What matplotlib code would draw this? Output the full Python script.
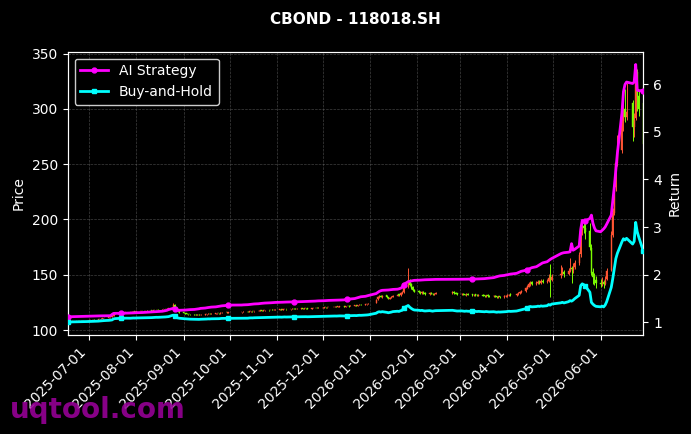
import numpy as np
import pandas as pd
import matplotlib
matplotlib.use("Agg")
import matplotlib.pyplot as plt
import matplotlib.dates as mdates

# ---------------- data ----------------
start_date = "2025-06-17"
end_date = "2026-06-29"
holidays = ["2025-10-01", "2025-10-02", "2025-10-03", "2025-10-06", "2025-10-07", "2025-10-08",
            "2026-01-01", "2026-01-02",
            "2026-02-16", "2026-02-17", "2026-02-18", "2026-02-19", "2026-02-20", "2026-02-23",
            "2026-04-06", "2026-05-01", "2026-05-04", "2026-05-05", "2026-06-19"]

opens = [
    107.3, 107.5, 107.8, 107.6, 107.9, 108.2, 108.0, 108.3, 108.5, 108.2,
    108.6, 108.9, 109.0, 109.4, 109.2, 109.7, 110.1, 110.3, 110.7, 111.0, 111.5, 111.9, 112.6, 114.8, 115.5, 116.2, 116.1, 115.8, 116.2, 116.4, 116.2, 116.5, 116.8,
    116.6, 116.8, 117.2, 117.2, 116.9, 117.3, 117.8, 117.6, 118.2, 118.0, 118.4, 118.2, 118.7, 119.2, 119.1, 119.5, 120.0, 123.0, 121.0, 118.4, 117.2,
    116.0, 115.3, 115.0, 114.5, 114.4, 114.0, 113.9, 113.6, 113.9, 113.5, 114.0, 114.1, 114.5, 114.8, 114.5, 114.8, 115.1, 115.4, 115.1, 115.5, 116.0, 115.8,
    116.0, 116.3, 116.6, 116.3, 116.8, 117.1, 116.9, 117.3, 117.5, 117.9, 117.5, 117.8, 118.2, 118.0, 118.4, 118.2, 118.4,
    118.6, 118.9, 118.6, 118.9, 119.2, 118.8, 119.2, 119.5, 119.4, 119.1, 119.4, 119.7, 119.5, 119.9, 119.8, 119.5, 119.9, 120.0, 120.2, 119.9,
    120.2, 120.3, 120.7, 120.5, 120.8, 121.0, 121.0, 121.3, 121.1, 121.3, 121.6, 121.2, 121.6, 122.0, 121.6, 122.0, 122.4, 122.1, 122.6, 123.0, 122.7, 123.2, 123.5,
    124.5, 127.8, 129.5, 131.2, 130.0, 131.3, 129.8, 128.5, 129.2, 130.0, 131.0, 132.4, 131.4, 133.5, 134.2, 139.0, 144.5, 141.6, 138.8, 136.5,
    135.2, 134.4, 133.2, 134.2, 133.3, 132.5, 133.6, 133.0, 132.1, 132.8, 133.2, 134.3, 133.8, 133.1,
    132.4, 133.0, 132.4, 131.7, 132.5, 132.2, 131.5, 132.3, 131.9, 131.1, 131.8, 131.4, 130.7, 131.5, 131.1, 130.4, 131.0, 130.5, 129.7, 130.5, 130.0, 130.5,
    131.0, 131.5, 132.3, 131.8, 132.4, 133.6, 134.3, 135.0, 137.5, 139.3, 141.2, 143.2, 141.6, 142.4, 143.9, 142.7, 144.4, 143.2, 144.3, 150.0, 145.5,
    149.5, 151.2, 152.5, 150.6, 153.8, 156.2, 154.6, 157.0, 160.5, 168.5, 190.5, 194.5, 192.5, 190.0, 174.0, 152.5, 148.5, 145.5,
    143.0, 142.0, 143.5, 142.0, 146.0, 154.0, 186.0, 206.0, 229.0, 251.0, 263.0, 289.0, 300.0, 293.0, 305.0, 284.0, 292.0, 333.0, 312.0, 305.0,
]
highs = [
    107.8, 107.9, 108.0, 108.0, 108.3, 108.4, 108.5, 108.6, 108.6, 108.8,
    109.0, 109.3, 109.5, 109.6, 109.8, 110.2, 110.6, 110.8, 111.2, 111.6, 112.1, 112.8, 115.0, 115.8, 116.3, 116.5, 116.4, 116.4, 116.6, 116.7, 116.8, 117.0, 117.1,
    117.1, 117.3, 117.5, 117.4, 117.6, 117.8, 118.0, 118.2, 118.4, 118.6, 118.7, 118.9, 119.2, 119.5, 119.7, 120.4, 124.5, 123.6, 121.3, 118.7, 117.5,
    116.3, 115.6, 115.3, 114.8, 114.7, 114.3, 114.2, 114.1, 114.2, 114.2, 114.5, 114.7, 115.0, 115.1, 115.2, 115.4, 115.6, 115.7, 115.9, 116.1, 116.3, 116.3,
    116.5, 116.8, 116.9, 117.1, 117.3, 117.4, 117.5, 117.8, 118.1, 118.2, 118.2, 118.4, 118.5, 118.6, 118.7, 118.8, 118.9,
    119.1, 119.2, 119.2, 119.4, 119.5, 119.5, 119.7, 119.8, 119.7, 119.7, 119.9, 120.0, 120.1, 120.2, 120.1, 120.1, 120.3, 120.4, 120.5, 120.5,
    120.7, 120.9, 121.0, 121.1, 121.2, 121.3, 121.5, 121.6, 121.7, 121.8, 121.9, 122.0, 122.2, 122.3, 122.3, 122.6, 122.7, 122.9, 123.2, 123.3, 123.5, 124.0, 124.4,
    128.3, 130.6, 132.0, 131.8, 131.7, 131.8, 130.2, 130.0, 130.8, 131.9, 132.9, 133.0, 134.0, 135.2, 141.0, 156.0, 146.2, 142.3, 139.6, 137.4,
    136.4, 135.2, 134.9, 135.0, 134.0, 134.2, 134.3, 133.6, 133.7, 134.1, 135.2, 135.0, 134.4, 133.8,
    133.6, 133.7, 133.0, 133.1, 133.2, 132.8, 132.8, 132.9, 132.5, 132.4, 132.5, 132.0, 132.1, 132.2, 131.7, 131.6, 131.7, 131.1, 131.2, 131.2, 131.4, 131.8,
    132.3, 132.9, 133.1, 133.4, 134.3, 135.3, 136.2, 139.0, 141.0, 143.2, 144.5, 144.6, 144.0, 145.2, 145.6, 146.0, 145.8, 146.4, 151.0, 160.0, 150.5,
    158.5, 157.0, 154.0, 156.0, 165.0, 158.0, 161.0, 163.0, 171.0, 199.0, 198.5, 197.5, 196.5, 197.0, 178.0, 156.0, 152.0, 149.0,
    146.0, 148.0, 145.0, 149.0, 156.0, 190.0, 210.0, 232.0, 256.0, 276.0, 298.0, 305.0, 318.0, 323.0, 308.0, 296.0, 340.2, 336.0, 317.0, 317.0,
]
lows = [
    107.2, 107.3, 107.4, 107.5, 107.7, 107.8, 107.9, 108.1, 108.0, 108.0,
    108.4, 108.7, 108.8, 109.0, 109.1, 109.5, 109.9, 110.1, 110.5, 110.8, 111.3, 111.7, 112.4, 114.5, 115.2, 115.7, 115.5, 115.6, 115.9, 115.9, 116.0, 116.3, 116.3,
    116.4, 116.6, 116.8, 116.7, 116.7, 117.1, 117.3, 117.4, 117.8, 117.8, 117.9, 118.0, 118.5, 118.8, 118.9, 119.3, 119.8, 120.8, 118.2, 116.6, 115.8,
    115.0, 114.6, 114.3, 114.0, 113.8, 113.6, 113.4, 113.3, 113.3, 113.2, 113.7, 113.9, 114.3, 114.3, 114.3, 114.6, 114.9, 114.9, 114.9, 115.3, 115.6, 115.6,
    115.8, 116.1, 116.0, 116.1, 116.6, 116.6, 116.7, 117.1, 117.3, 117.3, 117.3, 117.6, 117.7, 117.8, 117.9, 118.0, 118.2,
    118.4, 118.3, 118.4, 118.7, 118.6, 118.6, 119.0, 119.0, 118.8, 118.9, 119.2, 119.2, 119.3, 119.4, 119.2, 119.3, 119.7, 119.8, 119.6, 119.7,
    120.0, 120.1, 120.2, 120.3, 120.5, 120.7, 120.8, 120.8, 120.9, 121.1, 121.0, 121.0, 121.4, 121.3, 121.4, 121.8, 121.8, 121.9, 122.4, 122.4, 122.5, 123.0, 123.3,
    124.2, 127.2, 129.0, 129.6, 129.4, 129.0, 128.0, 128.1, 128.9, 129.7, 130.5, 130.9, 131.0, 132.8, 133.8, 138.0, 140.0, 137.5, 135.5, 134.0,
    133.5, 132.8, 132.6, 132.5, 131.9, 132.0, 132.2, 131.6, 131.7, 132.3, 132.7, 133.0, 132.4, 131.8,
    131.9, 131.8, 131.3, 131.2, 131.4, 131.0, 131.0, 131.2, 130.7, 130.6, 130.6, 130.1, 130.2, 130.3, 129.8, 129.9, 129.6, 129.1, 129.2, 129.4, 129.4, 129.8,
    130.2, 130.8, 130.9, 131.1, 131.8, 132.9, 133.6, 134.6, 136.8, 138.6, 140.3, 140.8, 140.5, 141.5, 141.8, 141.9, 142.2, 142.5, 143.6, 129.5, 144.2,
    147.0, 149.5, 148.0, 149.5, 152.5, 143.0, 152.0, 155.5, 158.5, 166.0, 186.0, 188.0, 182.0, 172.0, 150.0, 142.0, 141.0, 138.0,
    139.0, 140.0, 138.0, 141.0, 145.0, 153.0, 184.0, 204.0, 226.0, 248.0, 260.0, 280.0, 288.0, 290.0, 271.0, 275.0, 290.0, 298.0, 294.0, 253.0,
]
closes = [
    107.5, 107.7, 107.6, 107.9, 108.1, 108.0, 108.3, 108.4, 108.2, 108.6,
    108.8, 109.0, 109.3, 109.2, 109.6, 110.0, 110.3, 110.6, 110.9, 111.4, 111.9, 112.3, 114.6, 115.4, 115.9, 116.0, 115.8, 116.1, 116.3, 116.2, 116.5, 116.7, 116.6,
    116.8, 117.0, 117.1, 116.9, 117.3, 117.5, 117.6, 117.9, 118.0, 118.3, 118.2, 118.6, 118.9, 119.1, 119.4, 119.8, 123.1, 121.2, 118.6, 117.0, 116.2,
    115.4, 114.9, 114.6, 114.3, 114.1, 113.9, 113.7, 113.8, 113.6, 113.9, 114.2, 114.4, 114.7, 114.6, 114.9, 115.1, 115.3, 115.2, 115.6, 115.8, 115.9, 116.0,
    116.2, 116.5, 116.3, 116.8, 117.0, 116.9, 117.2, 117.5, 117.8, 117.6, 117.9, 118.1, 118.0, 118.3, 118.2, 118.5, 118.6,
    118.8, 118.6, 118.9, 119.1, 118.9, 119.2, 119.4, 119.3, 119.1, 119.4, 119.6, 119.5, 119.8, 119.7, 119.5, 119.8, 120.0, 120.1, 119.9, 120.2,
    120.4, 120.6, 120.5, 120.8, 120.9, 121.0, 121.2, 121.1, 121.4, 121.5, 121.3, 121.7, 121.9, 121.6, 122.0, 122.3, 122.1, 122.6, 122.9, 122.7, 123.2, 123.6, 124.0,
    127.5, 129.8, 130.9, 130.2, 131.0, 129.5, 128.6, 129.3, 130.1, 131.2, 132.0, 131.5, 133.2, 134.0, 139.5, 145.0, 141.2, 138.5, 136.2, 134.8,
    134.2, 133.5, 134.0, 133.1, 132.6, 133.4, 132.8, 132.2, 132.9, 133.3, 134.1, 133.6, 132.9, 132.5,
    132.8, 132.3, 131.9, 132.4, 132.0, 131.6, 132.1, 131.8, 131.3, 131.7, 131.2, 130.8, 131.4, 130.9, 130.5, 130.9, 130.3, 129.8, 130.4, 130.1, 130.6, 131.0,
    131.4, 132.0, 131.6, 132.5, 133.4, 134.2, 135.1, 137.8, 139.6, 141.5, 142.8, 141.9, 142.6, 143.5, 142.9, 144.1, 143.4, 144.5, 147.2, 145.8, 148.3,
    151.0, 152.2, 150.8, 153.6, 156.0, 154.8, 157.1, 160.3, 168.0, 190.0, 194.0, 192.0, 189.0, 175.0, 152.0, 148.0, 145.0, 143.0,
    142.0, 143.5, 141.8, 146.0, 153.5, 186.0, 206.0, 229.0, 251.0, 263.0, 289.0, 296.0, 293.0, 297.0, 284.0, 290.0, 333.0, 312.0, 300.0, 268.0,
]
ai_strategy = [
    1.111, 1.112, 1.114, 1.113, 1.116, 1.118, 1.120, 1.121, 1.123, 1.125,
    1.126, 1.127, 1.128, 1.128, 1.129, 1.130, 1.131, 1.131, 1.132, 1.133, 1.135, 1.160, 1.182, 1.184, 1.183, 1.185, 1.184, 1.186, 1.188, 1.190, 1.192, 1.193, 1.195,
    1.197, 1.199, 1.201, 1.203, 1.206, 1.208, 1.211, 1.214, 1.217, 1.220, 1.223, 1.228, 1.233, 1.240, 1.248, 1.262, 1.288, 1.270, 1.252, 1.246, 1.248,
    1.250, 1.253, 1.256, 1.259, 1.262, 1.266, 1.270, 1.275, 1.280, 1.288, 1.295, 1.301, 1.306, 1.310, 1.315, 1.320, 1.326, 1.331, 1.336, 1.342, 1.350, 1.357,
    1.359, 1.362, 1.366, 1.370, 1.374, 1.378, 1.381, 1.386, 1.391, 1.394, 1.397, 1.400, 1.403, 1.406, 1.409, 1.411, 1.413,
    1.415, 1.416, 1.418, 1.420, 1.421, 1.423, 1.425, 1.426, 1.427, 1.428, 1.430, 1.431, 1.432, 1.434, 1.435, 1.437, 1.439, 1.441, 1.443, 1.446,
    1.448, 1.450, 1.452, 1.454, 1.456, 1.458, 1.460, 1.461, 1.462, 1.463, 1.467, 1.472, 1.476, 1.481, 1.486, 1.495, 1.505, 1.515, 1.524, 1.533, 1.542, 1.551, 1.560,
    1.600, 1.622, 1.645, 1.660, 1.668, 1.672, 1.675, 1.679, 1.683, 1.687, 1.692, 1.700, 1.712, 1.730, 1.790, 1.850, 1.858, 1.865, 1.872, 1.878,
    1.880, 1.883, 1.886, 1.888, 1.890, 1.892, 1.894, 1.896, 1.897, 1.898, 1.899, 1.900, 1.900, 1.901,
    1.901, 1.902, 1.902, 1.903, 1.903, 1.904, 1.905, 1.906, 1.907, 1.908, 1.911, 1.914, 1.917, 1.920, 1.925, 1.935, 1.945, 1.955, 1.964, 1.972, 1.982, 1.990,
    1.995, 2.002, 2.010, 2.025, 2.040, 2.055, 2.068, 2.090, 2.102, 2.116, 2.130, 2.145, 2.165, 2.185, 2.205, 2.225, 2.245, 2.270, 2.295, 2.318, 2.338,
    2.440, 2.452, 2.460, 2.470, 2.478, 2.650, 2.512, 2.530, 2.600, 2.950, 3.140, 3.120, 3.130, 3.180, 3.250, 3.080, 2.980, 2.920,
    2.900, 2.930, 2.960, 3.000, 3.060, 3.250, 3.550, 3.850, 4.200, 4.550, 5.400, 5.850, 6.000, 6.050, 6.020, 6.050, 6.420, 5.880, 5.870, 5.870,
]

title_text = "CBOND - 118018.SH"
price_label = "Price"
return_label = "Return"
series_labels = ["AI Strategy", "Buy-and-Hold"]
watermark = "uqtool.com"

# ---------------- build ----------------
dates = pd.bdate_range(start_date, end_date)
dates = dates[~dates.isin(pd.to_datetime(holidays))]
o = np.array(opens); h = np.array(highs); l = np.array(lows); c = np.array(closes)
bh = c / c[0]
ai = np.array(ai_strategy)
xn = mdates.date2num(dates.to_pydatetime())

UP = "#ff5533"
DOWN = "#7cfc00"

fig = plt.figure(figsize=(6.91, 4.34), dpi=100, facecolor="black")
ax = fig.add_axes([0.098, 0.228, 0.833, 0.653])
ax.set_facecolor("black")

up = c >= o
cols = np.where(up, UP, DOWN)
ax.vlines(xn, l, h, colors=cols, linewidth=0.7, zorder=2)
ax.bar(xn, np.abs(c - o), bottom=np.minimum(o, c), width=0.7, color=cols,
       edgecolor=cols, linewidth=0.3, zorder=3)

ax.set_xlim(xn[0], xn[-1])
ax.set_ylim(95.5, 351.8)
ax.set_ylabel(price_label, color="white", fontsize=10)
ax.grid(True, color="gray", linestyle="--", linewidth=0.5, alpha=0.5)
ax.xaxis.set_major_locator(mdates.MonthLocator())
ax.xaxis.set_major_formatter(mdates.DateFormatter("%Y-%m-%d"))
plt.setp(ax.get_xticklabels(), rotation=45, ha="right")

ax2 = ax.twinx()
ax2.plot(xn, ai, color="#ff00ff", linewidth=2, marker="o", markersize=3.5,
         markevery=25, label=series_labels[0], zorder=5)
ax2.plot(xn, bh, color="#00ffff", linewidth=2, marker="s", markersize=3.5,
         markevery=25, label=series_labels[1], zorder=5)
ax2.set_ylim(0.727, 6.69)
ax2.set_ylabel(return_label, color="white", fontsize=10)

for a in (ax, ax2):
    a.tick_params(colors="white", labelsize=10)
    for s in a.spines.values():
        s.set_color("white")

leg = ax2.legend(loc="upper left", facecolor="black", edgecolor="#cccccc",
                 labelcolor="white", fontsize=10, framealpha=1.0)

ax.set_title(title_text, color="white", fontsize=11, fontweight="bold", pad=20)

fig.text(0.014, 0.022, watermark, fontsize=20, fontweight="bold", color="#960096",
         alpha=0.9, ha="left", va="bottom")

fig.savefig("out.png", dpi=100, facecolor="black")
